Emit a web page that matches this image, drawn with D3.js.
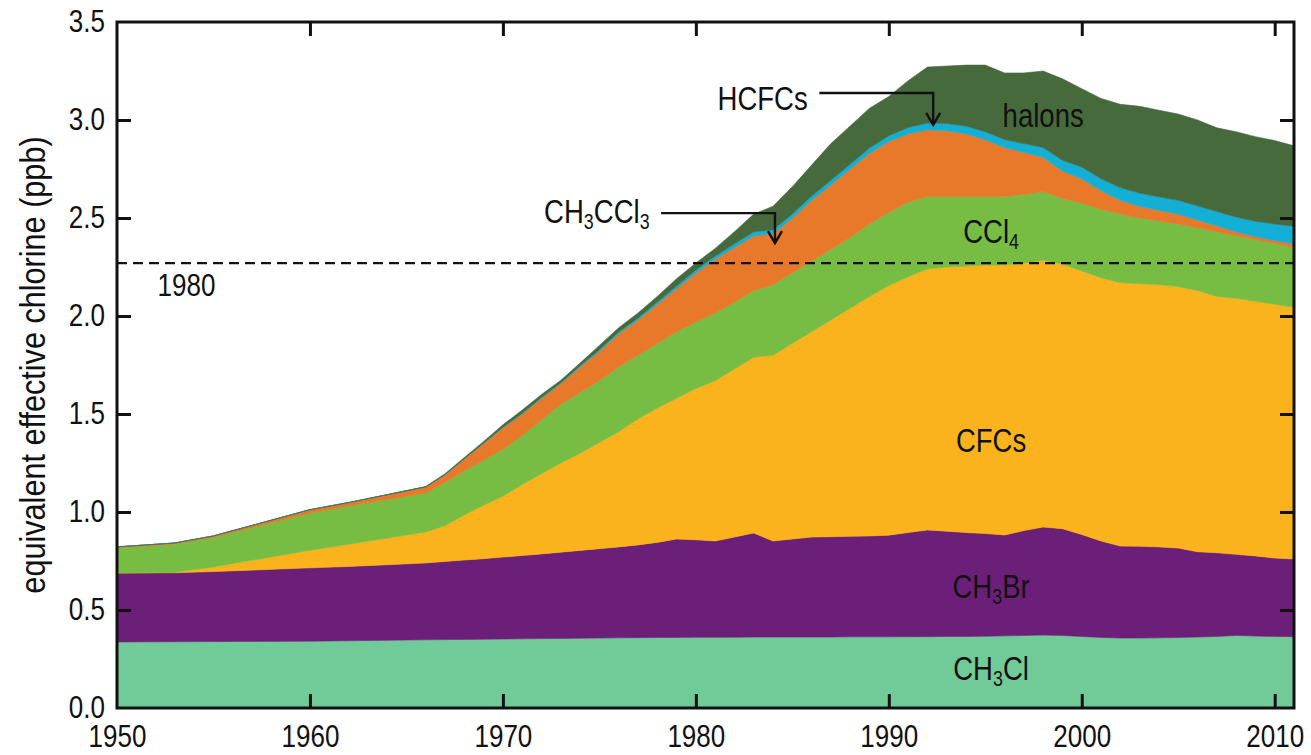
<!DOCTYPE html>
<html><head><meta charset="utf-8">
<script src="https://cdn.jsdelivr.net/npm/d3@7/dist/d3.min.js"></script>
<style>
html,body{margin:0;padding:0;background:#fff;}
svg{display:block;}
text{font-family:'Liberation Sans Narrow','Arial Narrow','Liberation Sans',Arial,sans-serif;fill:#111;}
</style></head><body>
<svg id="chart" width="1311" height="755"></svg>
<script>
// ---------- data (ppb contribution of each gas) ----------
const years = [1950,1953,1955,1960,1962,1966,1967,1968,1969,1970,1971,1972,1973,1974,1975,1976,1977,1978,1979,1980,1981,1982,1983,1984,1985,1986,1987,1988,1989,1990,1991,1992,1993,1994,1995,1996,1997,1998,1999,2000,2001,2002,2003,2004,2005,2006,2007,2008,2009,2010,2011];
const ch3cl   = [.337,.338,.339,.341,.343,.348,.349,.350,.351,.352,.353,.354,.355,.356,.357,.358,.359,.360,.360,.361,.361,.361,.362,.362,.362,.362,.362,.363,.363,.363,.364,.364,.365,.365,.366,.368,.370,.372,.370,.365,.360,.357,.357,.358,.360,.362,.365,.370,.367,.365,.364];
const ch3br   = [.352,.352,.357,.374,.379,.392,.399,.405,.411,.418,.425,.432,.440,.448,.456,.464,.473,.485,.502,.497,.491,.511,.531,.490,.500,.510,.512,.513,.515,.519,.531,.544,.537,.530,.524,.515,.535,.551,.545,.520,.492,.469,.468,.464,.456,.435,.427,.414,.409,.400,.396];
const cfcs    = [.000,.002,.024,.090,.113,.158,.182,.230,.273,.310,.362,.409,.455,.496,.542,.588,.643,.685,.718,.772,.818,.858,.897,.948,.998,1.048,1.106,1.164,1.222,1.273,1.305,1.332,1.348,1.360,1.370,1.377,1.365,1.362,1.350,1.345,1.343,1.344,1.340,1.338,1.334,1.333,1.308,1.306,1.299,1.295,1.285];
const ccl4    = [.127,.144,.150,.190,.195,.199,.220,.225,.230,.240,.250,.275,.300,.310,.315,.330,.325,.330,.340,.340,.345,.340,.340,.360,.360,.360,.360,.360,.370,.375,.380,.370,.360,.355,.350,.350,.350,.350,.335,.345,.350,.350,.335,.325,.320,.320,.330,.320,.315,.310,.305];
const ch3ccl3 = [.006,.006,.008,.017,.018,.031,.040,.060,.085,.110,.110,.110,.105,.130,.150,.170,.180,.200,.220,.250,.275,.280,.280,.260,.280,.310,.330,.350,.360,.360,.350,.340,.335,.320,.290,.250,.215,.175,.140,.125,.095,.070,.060,.055,.050,.040,.030,.020,.015,.015,.018];
const hcfcs   = [0,0,0,0,0,0,.001,.002,.002,.003,.004,.005,.005,.006,.008,.009,.010,.011,.013,.015,.016,.018,.020,.020,.021,.022,.023,.025,.027,.030,.032,.035,.037,.040,.040,.040,.045,.050,.055,.060,.060,.065,.067,.068,.070,.072,.073,.075,.078,.085,.090];
const halons  = [0,0,0,0,0,.002,.004,.006,.008,.012,.016,.015,.012,.014,.022,.021,.025,.029,.037,.035,.039,.062,.090,.120,.139,.158,.187,.195,.203,.200,.238,.285,.293,.310,.340,.340,.360,.390,.415,.400,.410,.425,.443,.442,.440,.438,.427,.435,.432,.425,.410];

const seriesKeys   = ["CH3Cl","CH3Br","CFCs","CCl4","CH3CCl3","HCFCs","halons"];
const seriesValues = [ch3cl, ch3br, cfcs, ccl4, ch3ccl3, hcfcs, halons];
const seriesColors = ["#71cb98","#6b1f78","#fbb31d","#77bd43","#e8782a","#13afd4","#476a3c"];
const xTickValues = [1950,1960,1970,1980,1990,2000,2010];
const yTickValues = [0,0.5,1.0,1.5,2.0,2.5,3.0,3.5];
const level1980 = 2.27;
const yAxisTitle = "equivalent effective chlorine (ppb)";

// ---------- scales ----------
const svg = d3.select("#chart");
const x = d3.scaleLinear().domain([1950, 2011]).range([117, 1294]);
const y = d3.scaleLinear().domain([0, 3.5]).range([708, 22]);

const table = years.map((yr, i) => {
  const row = {year: yr};
  seriesKeys.forEach((k, j) => row[k] = seriesValues[j][i]);
  return row;
});
const stacked = d3.stack().keys(seriesKeys)(table);
const color = d3.scaleOrdinal().domain(seriesKeys).range(seriesColors);

svg.append("clipPath").attr("id","plotclip").append("rect")
  .attr("x", x(1950)).attr("y", y(3.5)).attr("width", x(2011)-x(1950)).attr("height", y(0)-y(3.5));

const area = d3.area()
  .x(d => x(d.data.year))
  .y0(d => y(d[0]))
  .y1(d => y(d[1]));

svg.append("g").attr("clip-path","url(#plotclip)")
  .selectAll("path").data(stacked).join("path")
  .attr("d", area)
  .attr("fill", d => color(d.key))
  .attr("stroke", d => color(d.key))
  .attr("stroke-width", 0.6)
  .attr("stroke-linejoin","round");

// condensed text helper (the reference uses a condensed sans face)
function ctext(px, py, size, squeeze, anchor) {
  return svg.append("text")
    .attr("transform", `translate(${px},${py}) scale(${squeeze},1)`)
    .attr("font-size", size).attr("text-anchor", anchor || "start");
}

// dashed 1980 reference line
svg.append("line")
  .attr("x1", x(1950)).attr("x2", x(2011))
  .attr("y1", y(level1980)).attr("y2", y(level1980))
  .attr("stroke", "#111").attr("stroke-width", 2.2).attr("stroke-dasharray", "10,6");

ctext(x(1952.1), y(2.10), 31, 0.84, "start").text("1980");

// ---------- axes ----------
const tickLen = 14, tickSqueeze = 0.84;
const gx = svg.append("g").attr("transform", `translate(0,${y(0)})`)
  .call(d3.axisBottom(x).tickValues(xTickValues).tickFormat(d3.format("d")).tickSizeInner(-tickLen).tickSizeOuter(0).tickPadding(17));
const gxt = svg.append("g").attr("transform", `translate(0,${y(3.5)})`)
  .call(d3.axisTop(x).tickValues(xTickValues).tickFormat("").tickSizeInner(-tickLen).tickSizeOuter(0));
const gy = svg.append("g").attr("transform", `translate(${x(1950)},0)`)
  .call(d3.axisLeft(y).tickValues(yTickValues).tickFormat(d3.format(".1f")).tickSizeInner(-tickLen).tickSizeOuter(0).tickPadding(12 / tickSqueeze));
const gyr = svg.append("g").attr("transform", `translate(${x(2011)},0)`)
  .call(d3.axisRight(y).tickValues(yTickValues).tickFormat("").tickSizeInner(-tickLen).tickSizeOuter(0));

[gx, gxt, gy, gyr].forEach(g => {
  g.select(".domain").remove();
  g.selectAll(".tick line").attr("stroke", "#111").attr("stroke-width", 3);
  g.selectAll(".tick text").attr("font-size", 31).attr("fill", "#111")
    .attr("transform", `scale(${tickSqueeze},1)`)
    .attr("font-family", "'Liberation Sans Narrow','Arial Narrow','Liberation Sans',Arial,sans-serif");
});
// remove the ticks sitting on the frame corners
gy.selectAll(".tick").filter(d => d === 0 || d === 3.5).select("line").remove();
gyr.selectAll(".tick").filter(d => d === 0 || d === 3.5).remove();
gx.selectAll(".tick").filter(d => d === 1950).select("line").remove();
gxt.selectAll(".tick").filter(d => d === 1950).remove();

// frame
svg.append("rect")
  .attr("x", x(1950)).attr("y", y(3.5))
  .attr("width", x(2011)-x(1950)).attr("height", y(0)-y(3.5))
  .attr("fill","none").attr("stroke","#111").attr("stroke-width",3);

// y-axis title
svg.append("text")
  .attr("transform", `translate(45,${(y(0)+y(3.5))/2}) rotate(-90) scale(0.875,1)`)
  .attr("text-anchor","middle").attr("font-size", 35).text(yAxisTitle);

// ---------- gas labels ----------
const labelSize = 34, labelSqueeze = 0.81, subSize = 22, subShift = 6;
function chem(parts, xv, yv, anchor) {
  const t = ctext(x(xv), y(yv), labelSize, labelSqueeze, anchor || "middle");
  let shifted = false;
  parts.forEach(p => {
    const isSub = typeof p === "number";
    const ts = t.append("tspan").text(String(p));
    if (isSub) { ts.attr("font-size", subSize).attr("dy", subShift); shifted = true; }
    else if (shifted) { ts.attr("dy", -subShift); shifted = false; }
  });
  return t;
}
chem(["HCFCs"], 1985.8, 3.05, "end");
chem(["CH", 3, "CCl", 3], 1977.6, 2.475, "end");
chem(["halons"], 1998.0, 2.964);
chem(["CCl", 4], 1995.3, 2.372);
chem(["CFCs"], 1995.3, 1.306);
chem(["CH", 3, "Br"], 1995.3, 0.561);
chem(["CH", 3, "Cl"], 1995.3, 0.143);

// ---------- arrows ----------
function elbowArrow(x0, x1, yTop, yTip) {
  const px0 = x(x0), px1 = x(x1), py = y(yTop), pt = y(yTip);
  svg.append("path")
    .attr("d", `M${px0},${py} H${px1} V${pt}`)
    .attr("fill","none").attr("stroke","#111").attr("stroke-width",2.4);
  svg.append("path")
    .attr("d", `M${px1-7},${pt-12} L${px1},${pt} L${px1+7},${pt-12}`)
    .attr("fill","none").attr("stroke","#111").attr("stroke-width",2.4).attr("stroke-linejoin","miter");
}
elbowArrow(1986.4, 1992.3, 3.138, 2.975);
elbowArrow(1978.2, 1984.1, 2.525, 2.372);
</script>
</body></html>
